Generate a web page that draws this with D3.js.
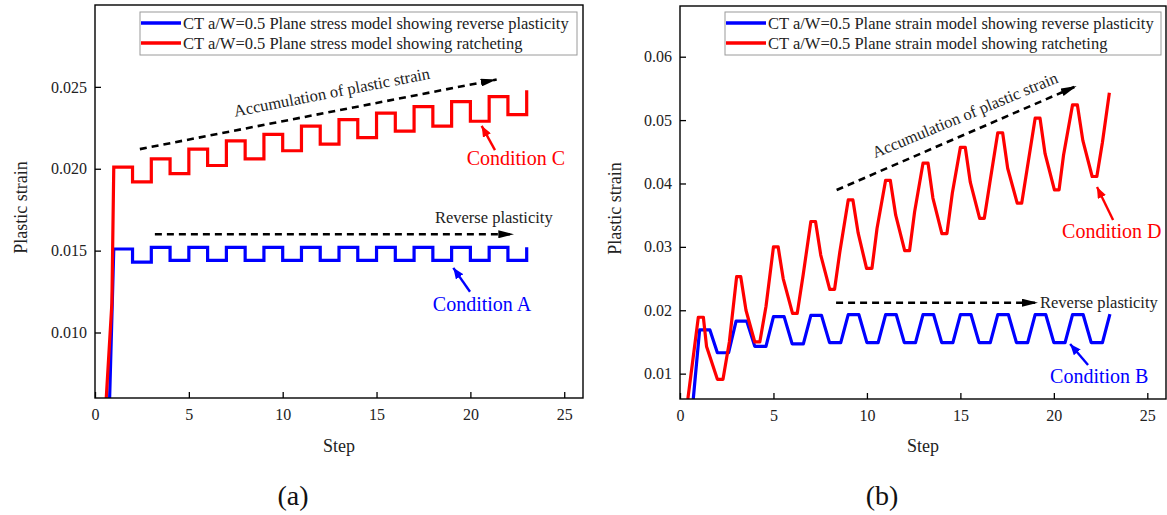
<!DOCTYPE html>
<html><head><meta charset="utf-8">
<script src="https://cdn.jsdelivr.net/npm/d3@7"></script>
<style>
body{margin:0;background:#fff}
svg{display:block}
text{font-family:"Liberation Serif","Times New Roman",serif;fill:#222}
</style>
</head><body>
<svg id="chart" width="1167" height="515"></svg>
<script>
// ---------------- DATA ----------------
// Panel (a): plane stress, square-wave step responses (value held from step k to k+1)
const stepNo = [1,2,3,4,5,6,7,8,9,10,11,12,13,14,15,16,17,18,19,20,21,22,23];
const condA = [0.0151,0.0143,0.0152,0.0144,0.0152,0.0144,0.0152,0.0144,0.0152,0.0144,0.0152,0.0144,
               0.0152,0.0144,0.0152,0.0144,0.0152,0.0144,0.0152,0.0144,0.0152,0.0144,0.0152];
const condC = [0.0201,0.0192,0.0206,0.0197,0.0212,0.0202,0.0217,0.0206,0.0221,0.0211,0.0226,0.0215,
               0.0230,0.0219,0.0234,0.0223,0.0238,0.0226,0.0241,0.0229,0.0244,0.0233,0.0248];
// initial loading ramps (before step 1)
const rampA_x = [0.78, 1.0];
const rampA_y = [0.006, 0.0151];
const rampC_x = [0.60, 0.90, 1.0];
const rampC_y = [0.006, 0.0118, 0.0201];

// Panel (b): plane strain
const condB_x = [0.71,1.05,1.6,2.0,2.6,3.0,3.57,4.0,4.6,5.0,5.57,6.0,6.6,7.0,7.57,8.0,8.6,9.0,9.57,10.0,10.6,
                 11.0,11.57,12.0,12.6,13.0,13.57,14.0,14.6,15.0,15.57,16.0,16.6,17.0,17.57,18.0,18.6,19.0,19.57,
                 20.0,20.6,21.0,21.57,22.0,22.6,23.0];
const condB_y = [0.006,
                 0.0169,0.0169, 0.0133,0.0133, 0.0183,0.0183, 0.0143,0.0143, 0.0190,0.0190, 0.0147,0.0147,
                 0.0192,0.0192, 0.0149,0.0149, 0.0193,0.0193, 0.0149,0.0149, 0.0193,0.0193, 0.0149,0.0149,
                 0.0193,0.0193, 0.0149,0.0149, 0.0193,0.0193, 0.0149,0.0149, 0.0193,0.0193, 0.0149,0.0149,
                 0.0193,0.0193, 0.0149,0.0149, 0.0193,0.0193, 0.0149,0.0149,
                 0.0194];
const condD_x = [0.42, 0.98,1.25,1.42, 2.0,2.3,2.64, 3.03,3.25,3.53, 4.0,4.27,4.6, 5.0,5.25,5.52,
                 6.02,6.27,6.59, 7.0,7.25,7.53, 8.01,8.27,8.55, 9.0,9.25,9.53, 9.98,10.27,10.54,
                 11.0,11.25,11.54, 12.02,12.28,12.55, 13.0,13.27,13.53, 14.01,14.28,14.57,
                 15.0,15.26,15.53, 16.03,16.28,16.57, 17.0,17.26,17.53, 18.04,18.28,18.57,
                 19.0,19.26,19.53, 20.03,20.28,20.52, 21.0,21.26,21.55, 22.05,22.3,22.6, 22.97];
const condD_y = [0.006, 0.0189,0.0189,0.0143, 0.0091,0.0091,0.0150, 0.0253,0.0253,0.0200, 0.0150,0.0150,0.0206,
                 0.0300,0.0300,0.0250, 0.0195,0.0195,0.0256, 0.0340,0.0340,0.0287, 0.0233,0.0233,0.0292,
                 0.0374,0.0374,0.0322, 0.0266,0.0266,0.0329, 0.0405,0.0405,0.0350, 0.0294,0.0294,0.0355,
                 0.0432,0.0432,0.0377, 0.0321,0.0321,0.0385, 0.0457,0.0457,0.0402, 0.0345,0.0345,0.0400,
                 0.0480,0.0480,0.0424, 0.0369,0.0369,0.0423, 0.0503,0.0503,0.0447, 0.0390,0.0390,0.0445,
                 0.0524,0.0524,0.0468, 0.0411,0.0411,0.0465, 0.0543];

const xTicks  = [0,5,10,15,20,25];
const yTicksA = [0.010,0.015,0.020,0.025];
const yTicksB = [0.01,0.02,0.03,0.04,0.05,0.06];
const legendA = ["CT a/W=0.5 Plane stress model showing reverse plasticity",
                 "CT a/W=0.5 Plane stress model showing ratcheting"];
const legendB = ["CT a/W=0.5 Plane strain model showing reverse plasticity",
                 "CT a/W=0.5 Plane strain model showing ratcheting"];
const BLUE = "#0000ff", RED = "#ff0000";

// ---------------- HELPERS ----------------
const svg = d3.select("#chart");
const defs = svg.append("defs");
function addMarker(id, color, len, wid){
  defs.append("marker").attr("id", id)
    .attr("viewBox", `0 0 ${len} ${wid}`).attr("refX", len).attr("refY", wid/2)
    .attr("markerWidth", len).attr("markerHeight", wid)
    .attr("markerUnits", "userSpaceOnUse").attr("orient", "auto")
    .append("path").attr("d", `M0,0L${len},${wid/2}L0,${wid}Z`).attr("fill", color);
}
addMarker("headK", "#000", 16, 8);
addMarker("headR", RED, 11, 9);
addMarker("headB", BLUE, 11, 9);

function zip(xs, ys){ return xs.map((x,i)=>[x, ys[i]]); }
function stepPoints(xs, ys){
  const pts = [[xs[0], ys[0]]];
  for (let i = 1; i < xs.length; i++){ pts.push([xs[i], ys[i-1]]); pts.push([xs[i], ys[i]]); }
  return pts;
}

function panel(cfg){
  const {L, T, R, B} = cfg.box;
  const x = d3.scaleLinear().domain([0, 26]).range([L, R]);
  const y = d3.scaleLinear().domain(cfg.yDomain).range([B, T]);
  const g = svg.append("g");
  const cid = "clip" + cfg.id;
  defs.append("clipPath").attr("id", cid).append("rect")
    .attr("x", L).attr("y", T).attr("width", R - L).attr("height", B - T);

  // axes
  const ax = g.append("g").attr("transform", `translate(0,${B})`)
    .call(d3.axisBottom(x).tickValues(xTicks).tickSizeInner(-6).tickSizeOuter(0).tickPadding(11).tickFormat(d3.format("d")));
  const ay = g.append("g").attr("transform", `translate(${L},0)`)
    .call(d3.axisLeft(y).tickValues(cfg.yTicks).tickSizeInner(-6).tickSizeOuter(0).tickPadding(8).tickFormat(d3.format(cfg.yFmt)));
  [ax, ay].forEach(a => {
    a.select(".domain").remove();
    a.selectAll("line").attr("stroke", "#000").attr("stroke-width", 1.3);
    a.selectAll("text").attr("font-size", 16).attr("font-family", '"Liberation Serif",serif').attr("fill", "#222");
  });

  // series
  const line = d3.line().x(d => x(d[0])).y(d => y(d[1]));
  const sg = g.append("g").attr("clip-path", `url(#${cid})`);
  cfg.series.forEach(s => {
    sg.append("path").attr("d", line(s.pts)).attr("fill", "none")
      .attr("stroke", s.color).attr("stroke-width", 3.2)
      .attr("stroke-linejoin", s.join || "miter").attr("stroke-linecap", "butt");
  });

  // frame
  g.append("rect").attr("x", L).attr("y", T).attr("width", R - L).attr("height", B - T)
    .attr("fill", "none").attr("stroke", "#000").attr("stroke-width", 1.4);

  // legend
  const lg = cfg.legend;
  g.append("rect").attr("x", lg.x).attr("y", lg.y).attr("width", lg.w).attr("height", lg.h)
    .attr("fill", "#fff").attr("stroke", "#9a9a9a").attr("stroke-width", 1);
  lg.items.forEach((t, i) => {
    const yy = lg.y + 11 + i * 20;
    g.append("line").attr("x1", lg.x + 1).attr("x2", lg.x + 41).attr("y1", yy).attr("y2", yy)
      .attr("stroke", [BLUE, RED][i]).attr("stroke-width", 3.5);
    g.append("text").attr("x", lg.x + 43).attr("y", yy).attr("dy", "0.34em")
      .attr("font-size", 16.5).text(t);
  });

  // annotations (positions in data coordinates)
  cfg.arrows.forEach(a => {
    g.append("line").attr("x1", x(a.from[0])).attr("y1", y(a.from[1]))
      .attr("x2", x(a.to[0])).attr("y2", y(a.to[1]))
      .attr("stroke", a.color).attr("stroke-width", a.dash ? 2.6 : 2.4)
      .attr("stroke-dasharray", a.dash ? "7,5" : null)
      .attr("marker-end", `url(#${a.head})`);
  });
  cfg.labels.forEach(t => {
    g.append("text").attr("x", 0).attr("y", 0)
      .attr("transform", `translate(${x(t.at[0])},${y(t.at[1])}) rotate(${t.rot || 0})`)
      .attr("font-size", t.size).style("fill", t.color || "#222").text(t.text);
  });

  // axis titles and panel tag
  svg.append("text").attr("transform", `translate(${cfg.yTitleX},${(T + B) / 2 + 6}) rotate(-90)`)
    .attr("text-anchor", "middle").attr("font-size", 18).text("Plastic strain");
  svg.append("text").attr("x", (L + R) / 2).attr("y", 452).attr("text-anchor", "middle")
    .attr("font-size", 18).text("Step");
  svg.append("text").attr("x", cfg.tagX).attr("y", 505).attr("text-anchor", "middle")
    .attr("font-size", 28).style("fill", "#111").text(cfg.tag);
}

// ---------------- PANEL (a) ----------------
panel({
  id: "a", box: {L: 95, T: 5, R: 583, B: 398},
  yDomain: [0.006, 0.030], yTicks: yTicksA, yFmt: ".3f",
  series: [
    {color: BLUE, pts: zip(rampA_x, rampA_y).concat(stepPoints(stepNo, condA).slice(1))},
    {color: RED,  pts: zip(rampC_x, rampC_y).concat(stepPoints(stepNo, condC).slice(1))}
  ],
  legend: {x: 140, y: 12, w: 437, h: 43, items: legendA},
  arrows: [
    {from: [2.39, 0.0212], to: [21.40, 0.02545], color: "#000", dash: true, head: "headK"},
    {from: [3.19, 0.0160], to: [22.34, 0.0160], color: "#000", dash: true, head: "headK"},
    {from: [21.31, 0.02114], to: [20.60, 0.02262], color: RED, head: "headR"},
    {from: [19.98, 0.01249], to: [19.09, 0.01395], color: BLUE, head: "headB"}
  ],
  labels: [
    {text: "Accumulation of plastic strain", at: [7.46, 0.02318], rot: -11, size: 16.5},
    {text: "Reverse plasticity", at: [18.11, 0.01669], size: 16.5},
    {text: "Condition C", at: [19.80, 0.02023], size: 20, color: RED},
    {text: "Condition A", at: [18.00, 0.01131], size: 20, color: BLUE}
  ],
  yTitleX: 27, tagX: 293, tag: "(a)"
});

// ---------------- PANEL (b) ----------------
panel({
  id: "b", box: {L: 680, T: 6, R: 1166, B: 399},
  yDomain: [0.006, 0.068], yTicks: yTicksB, yFmt: ".2f",
  series: [
    {color: BLUE, pts: zip(condB_x, condB_y), join: "round"},
    {color: RED,  pts: zip(condD_x, condD_y), join: "round"}
  ],
  legend: {x: 725, y: 12, w: 436, h: 43, items: legendB},
  arrows: [
    {from: [8.38, 0.03897], to: [21.22, 0.05538], color: "#000", dash: true, head: "headK"},
    {from: [8.35, 0.02119], to: [19.15, 0.02119], color: "#000", dash: true, head: "headK"},
    {from: [23.17, 0.03424], to: [22.31, 0.03944], color: RED, head: "headR"},
    {from: [21.83, 0.01136], to: [20.87, 0.01468], color: BLUE, head: "headB"}
  ],
  labels: [
    {text: "Accumulation of plastic strain", at: [10.43, 0.04397], rot: -22.5, size: 16.5},
    {text: "Reverse plasticity", at: [19.26, 0.02036], size: 16.5},
    {text: "Condition D", at: [20.44, 0.0314], size: 20, color: RED},
    {text: "Condition B", at: [19.80, 0.00852], size: 20, color: BLUE}
  ],
  yTitleX: 621, tagX: 882, tag: "(b)"
});
</script>
</body></html>
